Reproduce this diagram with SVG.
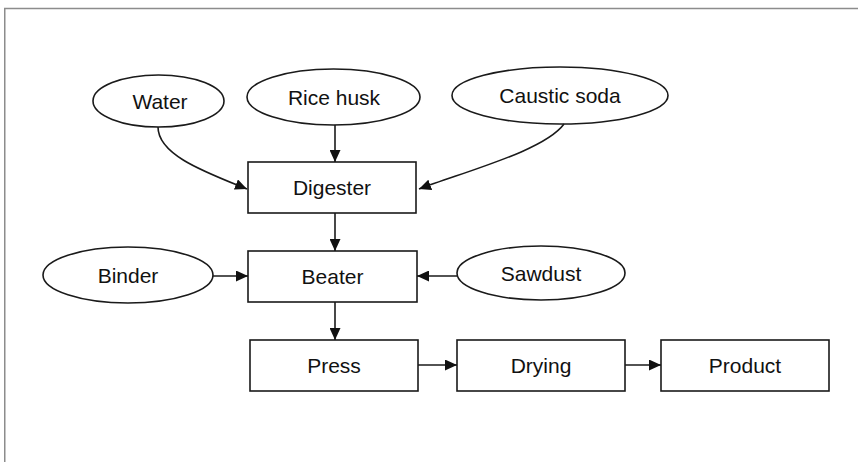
<svg xmlns="http://www.w3.org/2000/svg" width="858" height="462" viewBox="0 0 858 462">
<style>
.n{fill:#fff;stroke:#1a1a1a;stroke-width:1.6}
.t{font-family:"Liberation Sans",Arial,sans-serif;font-size:21px;fill:#111;text-anchor:middle}
.c{fill:none;stroke:#1a1a1a;stroke-width:1.6;marker-end:url(#ah)}
</style>
<defs>
<marker id="ah" markerUnits="userSpaceOnUse" markerWidth="12" markerHeight="11" refX="12" refY="5.5" orient="auto">
<path d="M0,0 L12,5.5 L0,11 Z" fill="#111"/>
</marker>
</defs>
<rect width="858" height="462" fill="#fff"/>
<path d="M858,8.5 H4.75 V462" fill="none" stroke="#8c8c8c" stroke-width="1.5"/>
<g id="water"><ellipse class="n" cx="158.5" cy="101" rx="65.5" ry="26"/><text class="t" x="160" y="108.5">Water</text></g>
<g id="rice-husk"><ellipse class="n" cx="333.5" cy="97" rx="86.5" ry="28"/><text class="t" x="334" y="104.5">Rice husk</text></g>
<g id="caustic-soda"><ellipse class="n" cx="560" cy="95.5" rx="108" ry="28.5"/><text class="t" x="560" y="103">Caustic soda</text></g>
<g id="digester"><rect class="n" x="248" y="162" width="168" height="51"/><text class="t" x="332" y="195">Digester</text></g>
<g id="binder"><ellipse class="n" cx="128" cy="275" rx="85" ry="28"/><text class="t" x="128" y="282.5">Binder</text></g>
<g id="beater"><rect class="n" x="248" y="251" width="169" height="51"/><text class="t" x="332.5" y="284">Beater</text></g>
<g id="sawdust"><ellipse class="n" cx="541" cy="273" rx="84" ry="27"/><text class="t" x="541" y="280.5">Sawdust</text></g>
<g id="press"><rect class="n" x="250" y="340" width="168" height="51"/><text class="t" x="334" y="373">Press</text></g>
<g id="drying"><rect class="n" x="457" y="340" width="168" height="51"/><text class="t" x="541" y="373">Drying</text></g>
<g id="product"><rect class="n" x="661" y="340" width="168" height="51"/><text class="t" x="745" y="373">Product</text></g>
<g id="connectors">
<path class="c" d="M158,127 C158,155 205,172 247,189"/>
<path class="c" d="M335,125 L335,162"/>
<path class="c" d="M564,124 C545,150 470,170 419,189"/>
<path class="c" d="M335,213 L335,251"/>
<path class="c" d="M213,276 L248,276"/>
<path class="c" d="M457,276 L417,276"/>
<path class="c" d="M335,302 L335,340"/>
<path class="c" d="M418,365 L457,365"/>
<path class="c" d="M625,365 L661,365"/>
</g>
</svg>
